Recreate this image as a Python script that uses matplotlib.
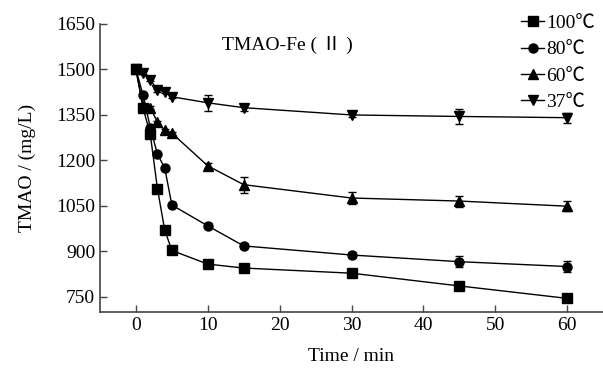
import matplotlib
matplotlib.use("Agg")
import matplotlib.pyplot as plt

plt.rcParams["font.family"] = ["Liberation Serif", "Noto Sans CJK SC", "DejaVu Sans"]

time_min = [0, 1, 2, 3, 4, 5, 10, 15, 30, 45, 60]

t100 = [1500, 1372, 1286, 1106, 971, 903, 858, 845, 828, 786, 745]
t80 = [1500, 1415, 1308, 1220, 1176, 1053, 984, 918, 888, 866, 850]
t60 = [1500, 1380, 1374, 1326, 1300, 1290, 1182, 1120, 1076, 1066, 1049]
t37 = [1500, 1489, 1466, 1432, 1427, 1410, 1390, 1374, 1350, 1345, 1341]

err100 = [5, 5, 5, 5, 5, 5, 6, 6, 8, 10, 10]
err80 = [5, 5, 5, 5, 5, 5, 8, 8, 10, 19, 18]
err60 = [5, 5, 5, 5, 5, 5, 8, 26, 19, 18, 17]
err37 = [5, 5, 5, 5, 5, 5, 27, 10, 8, 26, 16]

series = [
    ("100℃", t100, err100, "s"),
    ("80℃", t80, err80, "o"),
    ("60℃", t60, err60, "^"),
    ("37℃", t37, err37, "v"),
]

fig = plt.figure(figsize=(6.03, 3.72), dpi=100)
ax = fig.add_axes([100 / 603, 60 / 372, 503 / 603, 288 / 372])

for label, vals, err, mk in series:
    ax.errorbar(time_min, vals, yerr=err, color="black", marker=mk, markersize=6.5,
                linewidth=1, elinewidth=1, capsize=3, capthick=1, label=label)

ax.set_xlim(-5, 65)
ax.set_ylim(700, 1650)
ax.set_xticks([0, 10, 20, 30, 40, 50, 60])
ax.set_yticks([750, 900, 1050, 1200, 1350, 1500, 1650])
ax.tick_params(direction="in", length=5, width=1, labelsize=14, color="#444444")
for s in ["top", "right"]:
    ax.spines[s].set_visible(False)
for s in ["left", "bottom"]:
    ax.spines[s].set_color("#444444")
    ax.spines[s].set_linewidth(1.2)

ax.set_xlabel("Time / min", fontsize=14, labelpad=10)
ax.set_ylabel("TMAO / (mg/L)", fontsize=14, labelpad=14)
ax.text(0.372, 0.927, "TMAO-Fe ( Ⅱ )", transform=ax.transAxes, fontsize=14,
        ha="center", va="center")

handles, labels = ax.get_legend_handles_labels()
handles = [h[0] for h in handles]
ax.legend(handles, labels, loc="upper right", bbox_to_anchor=(1.0, 1.06),
          frameon=False, fontsize=14, handlelength=1.2, handletextpad=0.1,
          labelspacing=0.45, borderaxespad=0)

fig.savefig("out.png", dpi=100)
